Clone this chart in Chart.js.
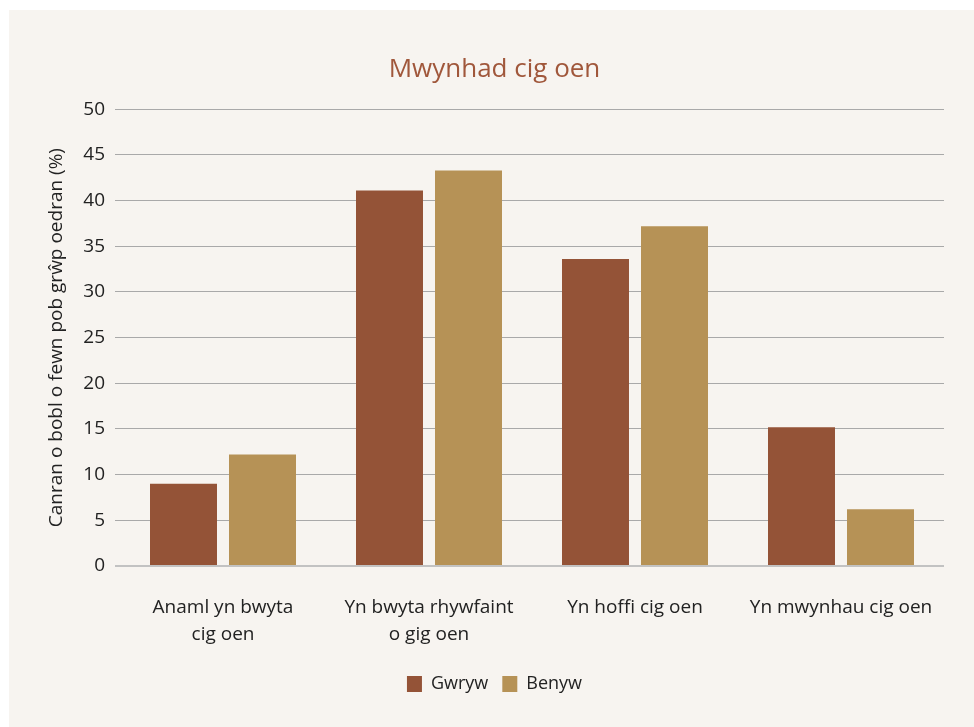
<!DOCTYPE html>
<html>
<head>
<meta charset="utf-8">
<script src="https://cdn.jsdelivr.net/npm/chart.js@4"></script>
<style>
  html, body { margin: 0; padding: 0; background: #ffffff; }
  #panel { position: absolute; left: 9px; top: 10px; width: 965px; height: 717px; background: #f7f4f0; }
  canvas { display: block; }
</style>
</head>
<body>
<div id="panel"><canvas id="chart" width="965" height="717"></canvas></div>
<script>
const categories = [
  ["Anaml yn bwyta", "cig oen"],
  ["Yn bwyta rhywfaint", "o gig oen"],
  "Yn hoffi cig oen",
  "Yn mwynhau cig oen"
];
const gwryw = [9.0, 41.1, 33.6, 15.2];
const benyw = [12.2, 43.3, 37.2, 6.2];
const yTicks = [0, 5, 10, 15, 20, 25, 30, 35, 40, 45, 50];

const font = "'Open Sans', 'Noto Sans', sans-serif";

new Chart(document.getElementById("chart"), {
  type: "bar",
  data: {
    labels: categories,
    datasets: [
      { label: "Gwryw", data: gwryw, backgroundColor: "#945337", categoryPercentage: 0.767, barPercentage: 0.848 },
      { label: "Benyw", data: benyw, backgroundColor: "#b69256", categoryPercentage: 0.767, barPercentage: 0.848 }
    ]
  },
  options: {
    responsive: false,
    animation: false,
    layout: { padding: { left: 36, right: 30, top: 0, bottom: 24 } },
    scales: {
      x: {
        grid: { display: false },
        border: { display: false },
        ticks: { font: { family: font, size: 19, lineHeight: 1.43 }, color: "#222", padding: 20, maxRotation: 0 },
        afterFit: (scale) => { scale.height = 95; }
      },
      y: {
        min: 0,
        max: 50,
        afterBuildTicks: (scale) => { scale.ticks = yTicks.map((v) => ({ value: v })); },
        afterFit: (scale) => { scale.width = 75; },
        border: { display: false },
        grid: {
          color: (ctx) => (ctx.tick && ctx.tick.value === 0 ? "#c2c2c2" : "#a9a9a9"),
          lineWidth: (ctx) => (ctx.tick && ctx.tick.value === 0 ? 2 : 1),
          tickLength: 5
        },
        ticks: { font: { family: font, size: 19 }, color: "#222", padding: 10 },
        title: {
          display: true,
          text: "Canran o bobl o fewn pob grŵp oedran (%)",
          font: { family: font, size: 19 },
          color: "#222",
          padding: 0
        }
      }
    },
    plugins: {
      title: {
        display: true,
        text: "Mwynhad cig oen",
        color: "#a0573b",
        font: { family: font, size: 26, weight: "normal" },
        padding: { top: 44, bottom: 24 }
      },
      legend: {
        position: "bottom",
        labels: {
          font: { family: font, size: 18 },
          color: "#222",
          boxWidth: 15,
          boxHeight: 16,
          padding: 14
        }
      },
      tooltip: { enabled: false }
    }
  }
});
</script>
</body>
</html>
